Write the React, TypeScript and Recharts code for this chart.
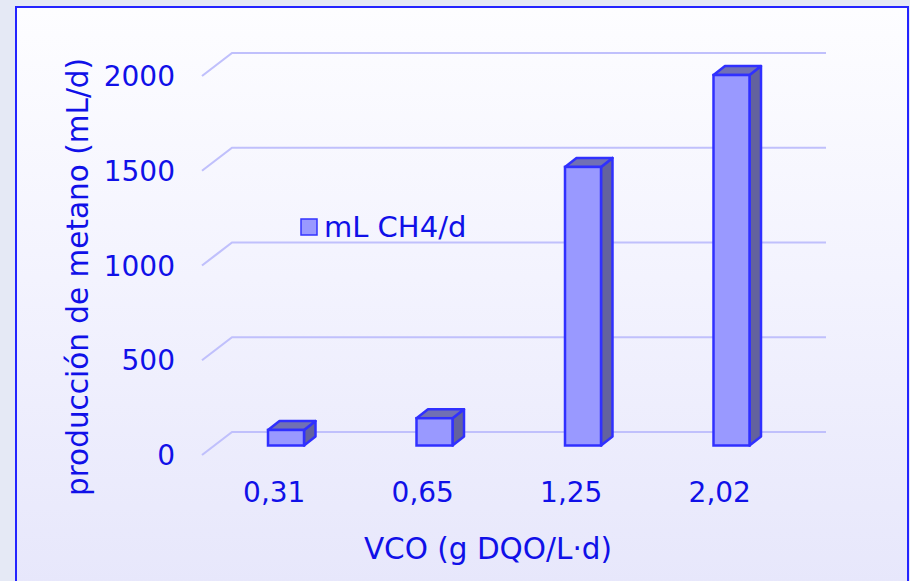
import React from 'react';
import { BarChart, Bar, XAxis, YAxis, CartesianGrid } from 'recharts';

const categories = ['0,31', '0,65', '1,25', '2,02'];
const methaneValues = [82, 144, 1470, 1955];
const yTicks = [0, 500, 1000, 1500, 2000];
const seriesName = 'mL CH4/d';
const xTitle = 'VCO (g DQO/L·d)';
const yTitle = 'producción de metano (mL/d)';

const data = categories.map((c, i) => ({ cat: c, v: methaneValues[i] }));

const W = 910;
const H = 581;
const PLOT_LEFT = 200;
const FONT = '"DejaVu Sans", Verdana, sans-serif';
const TXT = '#1010e8';
const GRID = '#c0c0fc';
const DEPTH_X = 30;
const DEPTH_Y = 23;
const BAR_DX = 12;
const BAR_DY = -9.5;
const BOX_DX = 11.5;
const BOX_DY = 9;
const FS = 28;
const TITLE_FS = 29.5;

const Box3D = (props: any) => {
  const { x, y, width, height } = props;
  if (width == null || height == null) return null;
  const fx = x + BAR_DX;
  const fy = y + BAR_DY;
  const w = width;
  const h = height;
  const stroke = '#3030ff';
  const top = `M${fx},${fy} L${fx + BOX_DX},${fy - BOX_DY} L${fx + w + BOX_DX},${fy - BOX_DY} L${fx + w},${fy} Z`;
  const side = `M${fx + w},${fy} L${fx + w + BOX_DX},${fy - BOX_DY} L${fx + w + BOX_DX},${fy + h - BOX_DY} L${fx + w},${fy + h} Z`;
  return (
    <g>
      <path d={side} fill="#63629e" stroke={stroke} strokeWidth={2.5} strokeLinejoin="round" />
      <path d={top} fill="#7170b4" stroke={stroke} strokeWidth={2.5} strokeLinejoin="round" />
      <rect x={fx} y={fy} width={w} height={h} fill="#9999ff" stroke={stroke} strokeWidth={2.5} />
    </g>
  );
};

const gridLine = (p: any) => {
  const { y1, x1, x2 } = p;
  const sx = x1 + 2;
  const d = `M${sx},${y1} L${sx + DEPTH_X},${y1 - DEPTH_Y} L${x2 + DEPTH_X + 2},${y1 - DEPTH_Y}`;
  return <path key={p.key ?? `g-${y1}`} d={d} fill="none" stroke={GRID} strokeWidth={2.2} />;
};

const YTick = (p: any) => {
  const { y, payload } = p;
  return (
    <text x={PLOT_LEFT - 25} y={y} dy={10} textAnchor="end" fill={TXT} fontFamily={FONT} fontSize={FS}>
      {payload.value}
    </text>
  );
};

const XTick = (p: any) => {
  const { x, payload } = p;
  return (
    <text x={x} y={492} dy={10} textAnchor="middle" fill={TXT} fontFamily={FONT} fontSize={FS}>
      {payload.value}
    </text>
  );
};

export default function App() {
  return (
    <div style={{ position: 'absolute', left: 0, top: 0, width: W, height: H, overflow: 'hidden', background: '#e5e9f5' }}>
      <div
        style={{
          position: 'absolute',
          left: 15,
          top: 6,
          width: 890,
          height: 600,
          border: '2px solid #2424ff',
          background: 'linear-gradient(to bottom, #fdfdff 0%, #f3f3fe 45%, #e6e6fb 100%)',
        }}
      />
      <div style={{ position: 'absolute', left: 0, top: 0 }}>
        <BarChart width={W} height={H} data={data} margin={{ top: 76, right: 116, bottom: 66, left: 100 }} barSize={36}>
          <CartesianGrid vertical={false} horizontal={gridLine} />
          <XAxis
            dataKey="cat"
            height={60}
            axisLine={false}
            tickLine={false}
            tick={<XTick />}
            interval={0}
            label={{
              content: () => (
                <text x={488} y={548} dy={10.5} textAnchor="middle" fill={TXT} fontFamily={FONT} fontSize={TITLE_FS}>
                  {xTitle}
                </text>
              ),
            }}
          />
          <YAxis
            width={100}
            domain={[0, 2000]}
            ticks={yTicks}
            axisLine={false}
            tickLine={false}
            tick={<YTick />}
            label={{
              content: () => (
                <text
                  x={77}
                  y={277}
                  transform="rotate(-90 77 277)"
                  dy={10.5}
                  textAnchor="middle"
                  fill={TXT}
                  fontFamily={FONT}
                  fontSize={TITLE_FS}
                >
                  {yTitle}
                </text>
              ),
            }}
          />
          <Bar dataKey="v" name={seriesName} shape={<Box3D />} isAnimationActive={false} />
        </BarChart>
      </div>
      <div
        style={{
          position: 'absolute',
          left: 299,
          top: 210,
          display: 'flex',
          alignItems: 'center',
          fontFamily: FONT,
          fontSize: 29,
          color: TXT,
          whiteSpace: 'nowrap',
        }}
      >
        <svg width={20} height={20} style={{ marginRight: 5 }}>
          <rect x={2} y={2} width={16} height={16} fill="#9999ff" stroke="#3333ff" strokeWidth={1.5} />
        </svg>
        <span>{seriesName}</span>
      </div>
    </div>
  );
}
